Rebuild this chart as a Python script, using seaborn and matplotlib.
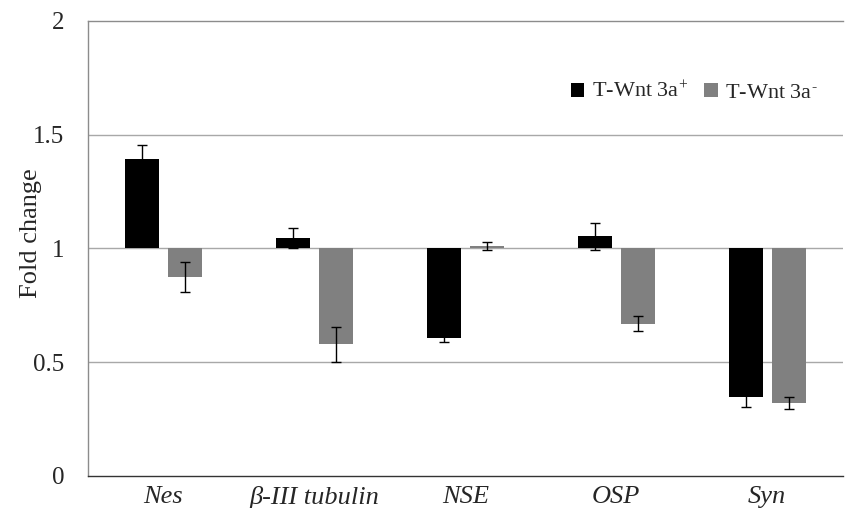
import matplotlib
matplotlib.use("Agg")
import matplotlib.pyplot as plt
import seaborn as sns
import pandas as pd
import numpy as np
from matplotlib.patches import Patch

# Gene markers and fold-change values (relative to control = 1)
genes = ["Nes", "β-III tubulin", "NSE", "OSP", "Syn"]
groups = ["T-Wnt 3a$^{+}$", "T-Wnt 3a$^{‐}$"]
fold_pos = [1.393, 1.045, 0.607, 1.053, 0.348]
fold_neg = [0.874, 0.579, 1.009, 0.67, 0.321]
err_pos = [0.062, 0.044, 0.02, 0.058, 0.047]
err_neg = [0.066, 0.077, 0.018, 0.035, 0.025]
tick_vals = [0, 0.5, 1, 1.5, 2]
tick_labels = ["0", "0.5", "1", "1.5", "2"]
baseline = 1.0

sns.set_theme(style="white")
plt.rcParams["font.family"] = ["Liberation Serif", "DejaVu Serif"]
plt.rcParams["mathtext.fontset"] = "custom"
plt.rcParams["mathtext.rm"] = "Liberation Serif"
plt.rcParams["mathtext.it"] = "Liberation Serif:italic"

df = pd.DataFrame({
    "gene": genes * 2,
    "group": [groups[0]] * len(genes) + [groups[1]] * len(genes),
    "fold": fold_pos + fold_neg,
    "err": err_pos + err_neg,
})
df["delta"] = df["fold"] - baseline

colors = {groups[0]: "#000000", groups[1]: "#808080"}

fig = plt.figure(figsize=(8.46, 5.08), dpi=100)
ax = fig.add_axes([0.104, 0.063, 0.892, 0.896])

ax.set_axisbelow(True)
for y in [0.5, 1.0, 1.5]:
    ax.axhline(y, color="#a8a8a8", lw=1.0, zorder=0)

sns.barplot(data=df, x="gene", y="delta", hue="group", order=genes,
            hue_order=groups, palette=colors, errorbar=None, width=0.57,
            gap=0.21, bottom=baseline, legend=False, ax=ax,
            edgecolor="none", linewidth=0, zorder=2)

# Error bars at bar centres (patches are drawn hue level by hue level)
n = len(genes)
for i, p in enumerate(ax.patches[:2 * n]):
    xc = p.get_x() + p.get_width() / 2
    row = df.iloc[i]
    ax.errorbar(xc, row["fold"], yerr=row["err"], fmt="none", ecolor="#000000",
                elinewidth=1.0, capsize=3.6, capthick=1.0, zorder=3)

ax.set_ylim(0, 2)
ax.set_xlim(-0.5, n - 0.5)
ax.set_yticks(tick_vals)
ax.set_yticklabels(tick_labels)
ax.tick_params(axis="y", length=0, pad=17, labelsize=18)
ax.tick_params(axis="x", length=0, pad=7, labelsize=19)
for lab in ax.get_xticklabels():
    lab.set_fontstyle("italic")

ax.set_xlabel("")
ax.set_ylabel("Fold change", fontsize=19)
ax.yaxis.set_label_coords(-0.061, 0.533)

for side in ["top", "left"]:
    ax.spines[side].set_color("#8c8c8c")
    ax.spines[side].set_linewidth(1.0)
ax.spines["right"].set_visible(False)
ax.spines["bottom"].set_color("#333333")
ax.spines["bottom"].set_linewidth(1.0)

handles = [Patch(facecolor=colors[g], edgecolor="none") for g in groups]
ax.legend(handles, groups, loc="upper right", bbox_to_anchor=(0.994, 0.91),
          ncol=2, frameon=False, fontsize=16, handlelength=0.6,
          handleheight=0.6, handletextpad=0.35, columnspacing=0.75)

fig.savefig("out.png", dpi=100)
